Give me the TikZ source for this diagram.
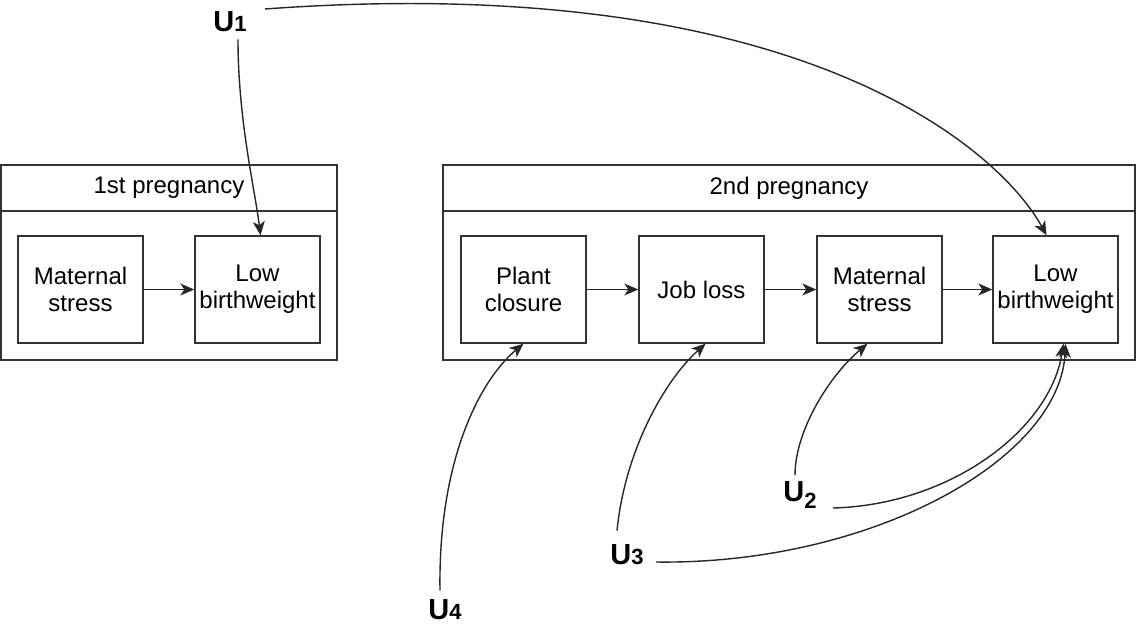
\documentclass[tikz,border=0pt]{standalone}
\usepackage{fontspec}
\setmainfont{Liberation Sans}
\usetikzlibrary{arrows.meta}

\begin{document}
\begin{tikzpicture}[x=1pt,y=-1pt,
    frame/.style={draw=black!80, line width=1.4pt, minimum height=195pt},
    header/.style={draw=black!80, line width=1.4pt, minimum height=46pt, font=\fontsize{24}{27}\selectfont},
    box/.style={draw=black!80, line width=1.4pt, minimum width=125pt, minimum height=107pt, align=center, font=\fontsize{24}{27}\selectfont},
    ulabel/.style={inner sep=0pt, font=\fontsize{29}{30}\selectfont\bfseries},
    arr/.style={-{Stealth[length=14pt,width=12pt,inset=4pt]}, line width=1.4pt, black!85}]
      \useasboundingbox (0,0) rectangle (1138,633);

      % first pregnancy
      \node [frame, minimum width=336pt] (frame1) at (169,262.5) {};
      \node [header, minimum width=336pt] (head1) at (169,188) {1st pregnancy};
      \node [box] (ms1) at (80.5,289.5) {Maternal\\stress};
      \node [box] (lb1) at (257.5,289.5) {Low\\birthweight};

      % second pregnancy
      \node [frame, minimum width=692pt] (frame2) at (789,262.5) {};
      \node [header, minimum width=692pt] (head2) at (789,188) {2nd pregnancy};
      \node [box] (pc) at (523.5,289.5) {Plant\\closure};
      \node [box] (jl) at (701.5,289.5) {Job loss};
      \node [box] (ms2) at (879.5,289.5) {Maternal\\stress};
      \node [box] (lb2) at (1055.5,289.5) {Low\\birthweight};

      % unobserved causes
      \node [ulabel] (u1) at (230,22) {U{\fontsize{22}{22}\selectfont 1}};
      \node [ulabel] (u2) at (800,495) {U\raisebox{-7pt}{\fontsize{22}{22}\selectfont 2}};
      \node [ulabel] (u3) at (627,555) {U{\fontsize{22}{22}\selectfont 3}};
      \node [ulabel] (u4) at (445,610) {U{\fontsize{22}{22}\selectfont 4}};

      \draw [arr] (ms1) -- (lb1);
      \draw [arr] (pc) -- (jl);
      \draw [arr] (jl) -- (ms2);
      \draw [arr] (ms2) -- (lb2);

      \draw [arr] ([shift={(8,7)}]u1.south) .. controls (238,120) and (255,190) .. ([xshift=3pt]lb1.north);
      \draw [arr] ([shift={(18,-13)}]u1.east) .. controls (800,-30) and (1000,150) .. ([xshift=-9pt]lb2.north);
      \draw [arr] ([shift={(-5,-6)}]u2.north) .. controls (795,430) and (830,375) .. ([xshift=-12pt]ms2.south);
      \draw [arr] ([shift={(16,13)}]u2.east) .. controls (950,505) and (1050,430) .. ([xshift=8pt]lb2.south);
      \draw [arr] ([shift={(-10,-14)}]u3.north) .. controls (625,450) and (665,380) .. ([xshift=4pt]jl.south);
      \draw [arr] ([shift={(12,7)}]u3.east) .. controls (870,565) and (1060,460) .. ([xshift=10pt]lb2.south);
      \draw [arr] ([shift={(-5,-9)}]u4.north) .. controls (438,460) and (480,380) .. (pc.south);
\end{tikzpicture}
\end{document}
